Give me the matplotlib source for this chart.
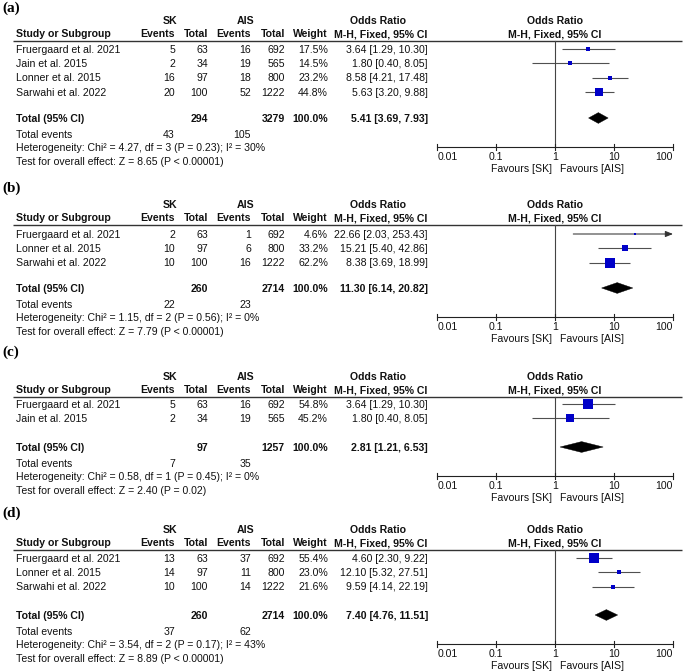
import matplotlib.pyplot as plt
from matplotlib.patches import Polygon

plt.rcParams["font.family"] = ["Liberation Sans", "DejaVu Sans"]

W, H = 685, 671
FS = 7.6
CAP = 3.8  # half cap height in px, to place text by its visual centre

# ---------------- data ----------------
labels = ["(a)", "(b)", "(c)", "(d)"]

studies_a = ["Fruergaard et al. 2021", "Jain et al. 2015", "Lonner et al. 2015", "Sarwahi et al. 2022"]
sk_events_a = [5, 2, 16, 20]
sk_total_a = [63, 34, 97, 100]
ais_events_a = [16, 19, 18, 52]
ais_total_a = [692, 565, 800, 1222]
weight_a = [17.5, 14.5, 23.2, 44.8]
or_a = [3.64, 1.80, 8.58, 5.63]
lo_a = [1.29, 0.40, 4.21, 3.20]
hi_a = [10.30, 8.05, 17.48, 9.88]
pooled_a = [5.41, 3.69, 7.93]
totals_a = [294, 3279]
tot_events_a = [43, 105]
het_a = "Heterogeneity: Chi² = 4.27, df = 3 (P = 0.23); I² = 30%"
test_a = "Test for overall effect: Z = 8.65 (P < 0.00001)"

studies_b = ["Fruergaard et al. 2021", "Lonner et al. 2015", "Sarwahi et al. 2022"]
sk_events_b = [2, 10, 10]
sk_total_b = [63, 97, 100]
ais_events_b = [1, 6, 16]
ais_total_b = [692, 800, 1222]
weight_b = [4.6, 33.2, 62.2]
or_b = [22.66, 15.21, 8.38]
lo_b = [2.03, 5.40, 3.69]
hi_b = [253.43, 42.86, 18.99]
pooled_b = [11.30, 6.14, 20.82]
totals_b = [260, 2714]
tot_events_b = [22, 23]
het_b = "Heterogeneity: Chi² = 1.15, df = 2 (P = 0.56); I² = 0%"
test_b = "Test for overall effect: Z = 7.79 (P < 0.00001)"

studies_c = ["Fruergaard et al. 2021", "Jain et al. 2015"]
sk_events_c = [5, 2]
sk_total_c = [63, 34]
ais_events_c = [16, 19]
ais_total_c = [692, 565]
weight_c = [54.8, 45.2]
or_c = [3.64, 1.80]
lo_c = [1.29, 0.40]
hi_c = [10.30, 8.05]
pooled_c = [2.81, 1.21, 6.53]
totals_c = [97, 1257]
tot_events_c = [7, 35]
het_c = "Heterogeneity: Chi² = 0.58, df = 1 (P = 0.45); I² = 0%"
test_c = "Test for overall effect: Z = 2.40 (P = 0.02)"

studies_d = ["Fruergaard et al. 2021", "Lonner et al. 2015", "Sarwahi et al. 2022"]
sk_events_d = [13, 14, 10]
sk_total_d = [63, 97, 100]
ais_events_d = [37, 11, 14]
ais_total_d = [692, 800, 1222]
weight_d = [55.4, 23.0, 21.6]
or_d = [4.60, 12.10, 9.59]
lo_d = [2.30, 5.32, 4.14]
hi_d = [9.22, 27.51, 22.19]
pooled_d = [7.40, 4.76, 11.51]
totals_d = [260, 2714]
tot_events_d = [37, 62]
het_d = "Heterogeneity: Chi² = 3.54, df = 2 (P = 0.17); I² = 43%"
test_d = "Test for overall effect: Z = 8.89 (P < 0.00001)"

ticks = [0.01, 0.1, 1, 10, 100]
tick_labels = ["0.01", "0.1", "1", "10", "100"]

panels = [
    (studies_a, sk_events_a, sk_total_a, ais_events_a, ais_total_a, weight_a, or_a, lo_a, hi_a,
     pooled_a, totals_a, tot_events_a, het_a, test_a),
    (studies_b, sk_events_b, sk_total_b, ais_events_b, ais_total_b, weight_b, or_b, lo_b, hi_b,
     pooled_b, totals_b, tot_events_b, het_b, test_b),
    (studies_c, sk_events_c, sk_total_c, ais_events_c, ais_total_c, weight_c, or_c, lo_c, hi_c,
     pooled_c, totals_c, tot_events_c, het_c, test_c),
    (studies_d, sk_events_d, sk_total_d, ais_events_d, ais_total_d, weight_d, or_d, lo_d, hi_d,
     pooled_d, totals_d, tot_events_d, het_d, test_d),
]

# pixel layout: (label y, header line y, first row y, total row y)
layout = [(8, 41, 49, 118), (188, 225, 234, 288), (352, 397, 404, 447), (513, 550, 558, 615)]

# ---------------- figure ----------------
fig = plt.figure(figsize=(W / 100, H / 100), dpi=100)
bg = fig.add_axes([0, 0, 1, 1])
bg.set_xlim(0, W)
bg.set_ylim(H, 0)
bg.axis("off")

X0, X1 = 437.3, 673.0
fp = fig.add_axes([X0 / W, 0, (X1 - X0) / W, 1])
fp.set_xscale("log")
fp.set_xlim(0.01, 100)
fp.set_ylim(H, 0)
fp.axis("off")

BLUE = "#0000C8"
GREY = "#505050"


def txt(x, y, s, ha="left", bold=False, ax=None):
    (ax or bg).text(x, y + CAP, s, ha=ha, va="baseline", fontsize=FS,
                    fontweight="bold" if bold else "normal", color="#111111")


for lab, data, (ly, line_y, row0, tot_y) in zip(labels, panels, layout):
    (studies, ske, skt, aise, aist, wts, ors, los, his,
     pooled, totals, tot_ev, het, test) = data

    bg.text(2, ly, lab, ha="left", va="center", fontsize=11, fontweight="bold",
            family="Liberation Serif", color="black")

    # column headers
    txt(170, line_y - 21, "SK", ha="center", bold=True)
    txt(246, line_y - 21, "AIS", ha="center", bold=True)
    hy = line_y - 7.5
    txt(16, hy, "Study or Subgroup", bold=True)
    txt(175, hy, "Events", ha="right", bold=True)
    txt(208, hy, "Total", ha="right", bold=True)
    txt(251, hy, "Events", ha="right", bold=True)
    txt(285, hy, "Total", ha="right", bold=True)
    txt(328, hy, "Weight", ha="right", bold=True)
    txt(378, line_y - 21, "Odds Ratio", ha="center", bold=True)
    txt(381, hy, "M-H, Fixed, 95% CI", ha="center", bold=True)
    txt(555, line_y - 21, "Odds Ratio", ha="center", bold=True)
    txt(555, hy, "M-H, Fixed, 95% CI", ha="center", bold=True)
    bg.plot([13, 682], [line_y, line_y], color="#333333", lw=1.0, solid_capstyle="butt")

    # study rows
    for i, name in enumerate(studies):
        y = row0 + 14.3 * i
        txt(16, y, name)
        txt(175, y, str(ske[i]), ha="right")
        txt(208, y, str(skt[i]), ha="right")
        txt(251, y, str(aise[i]), ha="right")
        txt(285, y, str(aist[i]), ha="right")
        txt(328, y, f"{wts[i]:.1f}%", ha="right")
        txt(428, y, f"{ors[i]:.2f} [{los[i]:.2f}, {his[i]:.2f}]", ha="right")

        if his[i] > 100:
            fp.annotate("", xy=(100, y), xytext=(los[i], y),
                        arrowprops=dict(arrowstyle="-|>,head_length=0.45,head_width=0.18",
                                        color="#333333", lw=0.75, shrinkA=0, shrinkB=0),
                        annotation_clip=False)
        else:
            fp.plot([los[i], his[i]], [y, y], color=GREY, lw=0.8, clip_on=False,
                    solid_capstyle="butt")
        side = 1.5 + 0.14 * wts[i]
        fp.plot(ors[i], y, marker="s", ms=side * 0.72, color=BLUE, mec=BLUE, mew=0,
                clip_on=False, zorder=3)

    # total row
    txt(16, tot_y, "Total (95% CI)", bold=True)
    txt(208, tot_y, str(totals[0]), ha="right", bold=True)
    txt(285, tot_y, str(totals[1]), ha="right", bold=True)
    txt(328, tot_y, "100.0%", ha="right", bold=True)
    txt(428, tot_y, f"{pooled[0]:.2f} [{pooled[1]:.2f}, {pooled[2]:.2f}]", ha="right", bold=True)
    est, plo, phi = pooled
    fp.add_patch(Polygon([(plo, tot_y), (est, tot_y - 5.4), (phi, tot_y), (est, tot_y + 5.4)],
                         closed=True, facecolor="black", edgecolor="black", lw=0.3,
                         clip_on=False, zorder=3))

    # footer text
    txt(16, tot_y + 16, "Total events")
    txt(175, tot_y + 16, str(tot_ev[0]), ha="right")
    txt(251, tot_y + 16, str(tot_ev[1]), ha="right")
    txt(16, tot_y + 29, het)
    txt(16, tot_y + 43, test)

    # axis
    ax_y = tot_y + 29
    fp.plot([1, 1], [line_y, ax_y], color="#444444", lw=0.8, clip_on=False)
    fp.plot([0.01, 100], [ax_y, ax_y], color="#222222", lw=0.8, clip_on=False)
    for t, tl in zip(ticks, tick_labels):
        fp.plot([t, t], [ax_y - 3.5, ax_y + 3], color="#222222", lw=0.8, clip_on=False)
        ha = "left" if t == ticks[0] else ("right" if t == ticks[-1] else "center")
        txt(t, ax_y + 9, tl, ha=ha, ax=fp)
    txt(552, ax_y + 21, "Favours [SK]", ha="right")
    txt(560, ax_y + 21, "Favours [AIS]", ha="left")

fig.savefig("out.png", dpi=100)
